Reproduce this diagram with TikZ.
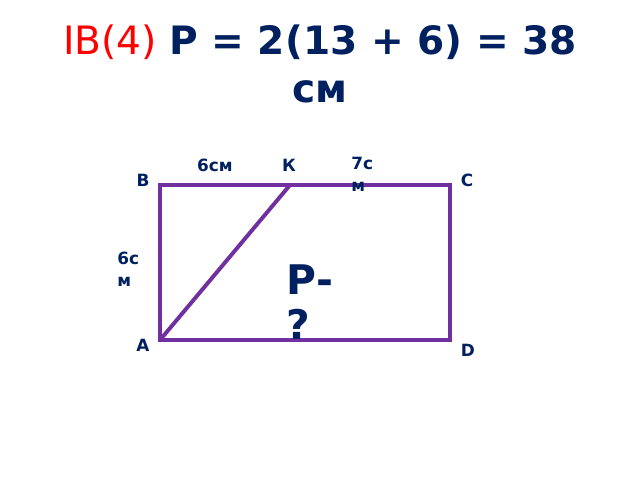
\documentclass[tikz,border=0pt]{standalone}
\usepackage{fontspec}
\setmainfont{DejaVu Sans}
\usepackage{tikz}
\usetikzlibrary{positioning}
\usepackage{xcolor}
\definecolor{navy}{HTML}{002060}
\definecolor{violet}{HTML}{7030A0}
\definecolor{redtxt}{HTML}{FF0000}

\begin{document}
\begin{tikzpicture}[x=0.025cm,y=-0.025cm,
        % define styles
        side/.style={
             draw=violet,
             line width=2.8pt,
             line join=miter
        },
        lbl/.style={
             text=navy,
             font=\fontsize{12}{15.5}\selectfont\bfseries,
             inner sep=0pt,
             align=left
        },
        big/.style={
             text=navy,
             font=\fontsize{29}{32}\selectfont\bfseries,
             inner sep=0pt,
             align=left
        }
    ]
        \useasboundingbox (0,0) rectangle (640,480);

        % title
        \node[font=\fontsize{27.8}{34}\selectfont, text=navy, align=center, inner sep=0pt] (title) at (320,64)
            {{\color{redtxt}IB(4)} \textbf{Р = 2(13 + 6) = 38}\\\textbf{см}};

        % corners of the rectangle
        \coordinate (A) at (160,340);
        \coordinate (B) at (160,185);
        \coordinate (C) at (450,185);
        \coordinate (D) at (450,340);
        \coordinate (K) at (290,185);

        \draw[side] (A) -- (B) -- (C) -- (D) -- cycle;
        \draw[side] (A) -- (K);

        % letters at the corners
        \node[lbl] (nB) at (143,180) {В};
        \node[lbl] (nC) at (467,180) {С};
        \node[lbl] (nA) at (143,345) {А};
        \node[lbl] (nD) at (468,350) {D};
        \node[lbl] (nK) at (289,165) {К};

        % lengths
        \node[lbl] (lBK) at (215,165) {6см};
        \node[lbl, anchor=north west] (lKC) at (351,157) {7с\\м};
        \node[lbl, anchor=north west] (lAB) at (117,252) {6с\\м};

        % question
        \node[big, anchor=north west] (quest) at (286,264) {Р-\\?};
    \end{tikzpicture}
\end{document}
